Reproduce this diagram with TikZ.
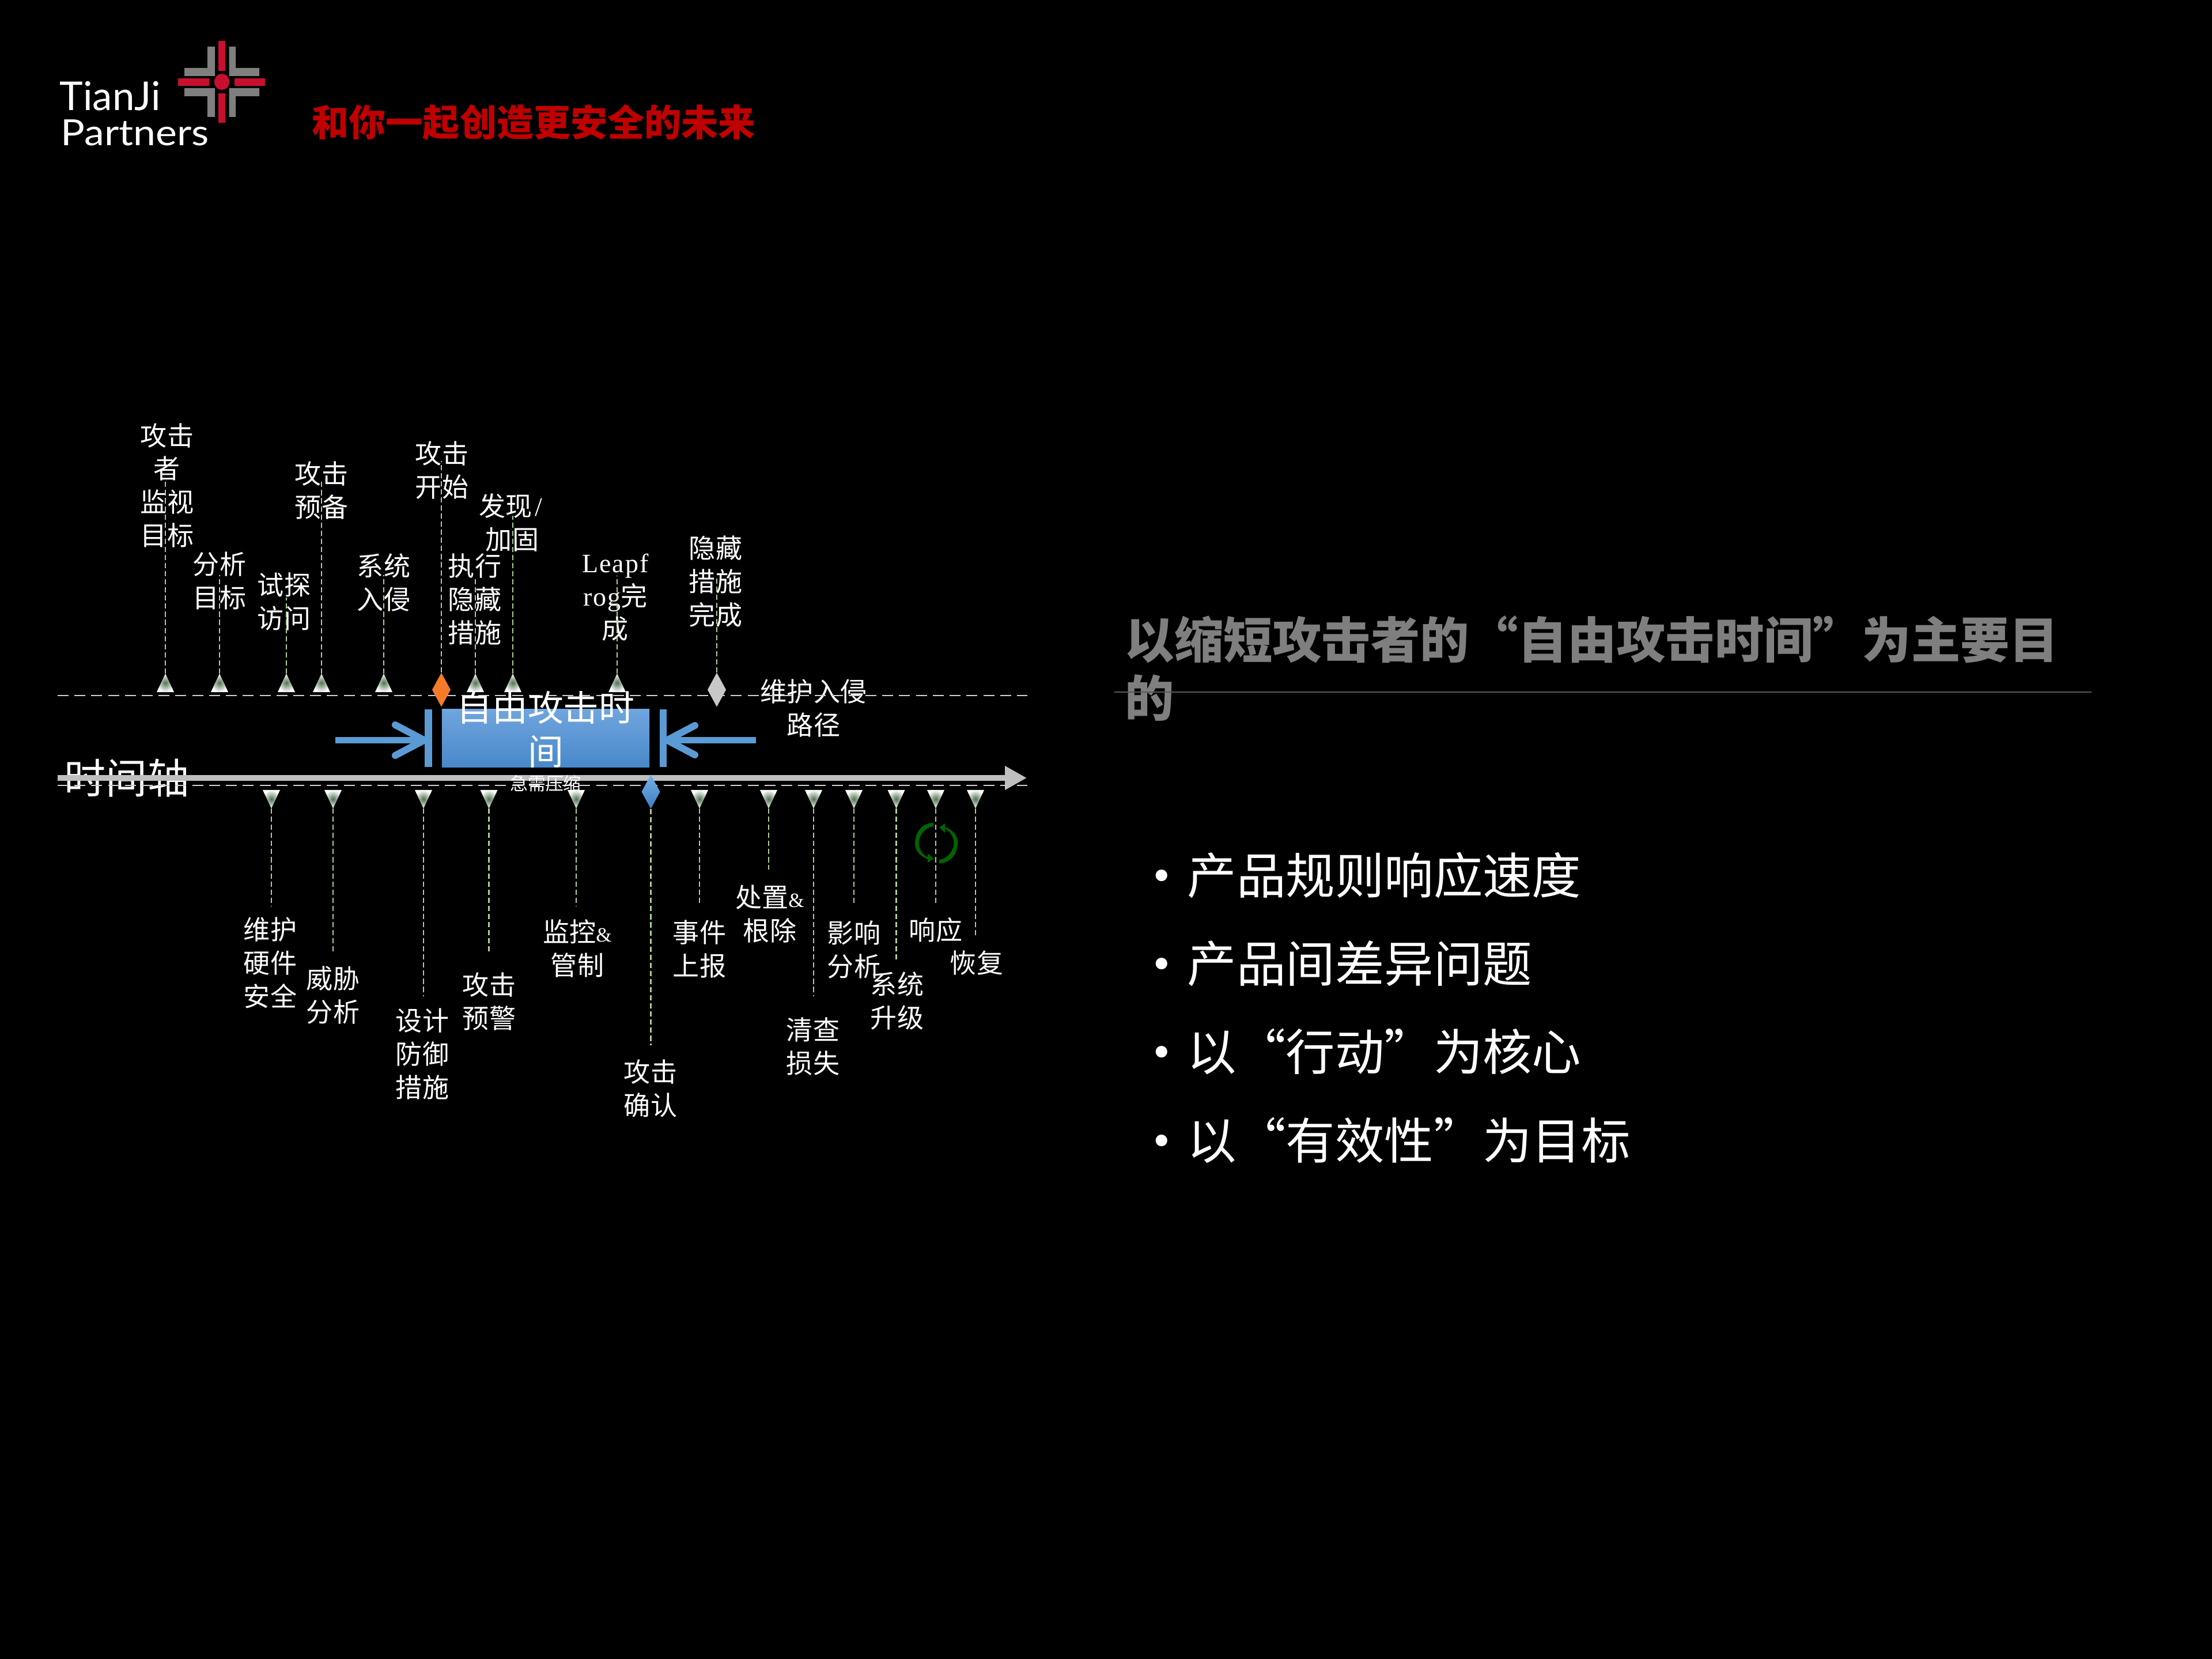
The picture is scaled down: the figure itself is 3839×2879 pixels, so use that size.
\documentclass[tikz,border=0pt]{standalone}
\usepackage{fontspec}
\setmainfont{Noto Sans CJK SC}
\newfontfamily\latn[LetterSpace=4]{Liberation Serif}
\newfontfamily\logof{Lato}
\usetikzlibrary{shapes.geometric,arrows.meta,shadings}
\definecolor{leadgreen}{HTML}{A9D18E}
\definecolor{dashgrey}{HTML}{D0D0D0}
\definecolor{axisgrey}{HTML}{BFBFBF}
\definecolor{lblue}{HTML}{5B9BD5}
\definecolor{logored}{HTML}{C8102E}
\definecolor{logogrey}{HTML}{7F7F7F}
\definecolor{cycgreen}{HTML}{006400}
\definecolor{mkgreen}{HTML}{4F7350}
\tikzset{
  lbl/.style={text=white,align=center,inner sep=0pt,font=\fontsize{13.1pt}{16.4pt}\selectfont},
  bigt/.style={text=white,align=center,inner sep=0pt},
  leader/.style={draw=leadgreen,line width=0.75pt,dash pattern=on 2.6pt off 1.4pt},
  dashl/.style={draw=dashgrey,line width=0.8pt,dash pattern=on 5.4pt off 2.906pt},
  mk/.style={isosceles triangle,isosceles triangle stretches,inner sep=0pt,outer sep=0pt,minimum width=3mm,minimum height=3.2mm,inner color=mkgreen,outer color=white},
  upmk/.style={mk,shape border rotate=90,anchor=apex},
  dnmk/.style={mk,shape border rotate=-90,anchor=apex},
  dia/.style={diamond,inner sep=0pt,outer sep=0pt,aspect=0.53,minimum width=3.2mm,minimum height=5.9mm},
  bluearrow/.style={draw=lblue,line width=3.4pt,line cap=butt},
  bluewing/.style={draw=lblue,line width=3.4pt,line cap=round,line join=miter},
  bar/.style={fill=lblue,draw=none,inner sep=0pt,minimum width=3.4mm,minimum height=1cm},
  lgrey/.style={fill=logogrey,draw=none},
  lred/.style={fill=logored,draw=none},
  bulletmark/.style={text=white,inner sep=0pt,font=\fontsize{24pt}{24pt}\latn},
  bullettext/.style={text=white,inner sep=0pt,anchor=west,font=\fontsize{24.3pt}{29pt}\selectfont},
}
\newcommand{\upm}[3]{\node[upmk] (m#1) at (#2,1169) {}; \coordinate (e#1) at (#2,#3); \draw[leader] (m#1.apex) -- (e#1);}
\newcommand{\dnm}[3]{\node[dnmk] (m#1) at (#2,1403) {}; \coordinate (e#1) at (#2,#3); \draw[leader] (m#1.apex) -- (e#1);}
\newcommand{\amp}{{\fontsize{10pt}{12pt}\latn\&}}
\begin{document}
\begin{tikzpicture}[x=0.01cm,y=-0.01cm]
\useasboundingbox (0,0) rectangle (3839,2879);
\fill[black] (0,0) rectangle (3839,2879);
% logo
\fill[lred] (379,71) rectangle (391,123);
\fill[lred] (379,162) rectangle (391,213);
\fill[lred] (309,136) rectangle (363,149);
\fill[lred] (407,136) rectangle (460,149);
\fill[lred] (385,142) ellipse (13 and 14);
\fill[lgrey] (360,81) -- (373,81) -- (373,132) -- (320,132) -- (320,118) -- (360,118) -- cycle;
\fill[lgrey] (409,81) -- (397.5,81) -- (397.5,132) -- (450,132) -- (450,118) -- (409,118) -- cycle;
\fill[lgrey] (360,203) -- (373,203) -- (373,153) -- (320,153) -- (320,167) -- (360,167) -- cycle;
\fill[lgrey] (409,203) -- (397.5,203) -- (397.5,153) -- (450,153) -- (450,167) -- (409,167) -- cycle;
\node[text=white,anchor=base west,inner sep=0pt,font=\logof\fontsize{19.6pt}{20pt}\selectfont] (tj) at (103,192) {TianJi};
\node[text=white,anchor=base west,inner sep=0pt,font=\logof\fontsize{17.8pt}{18pt}\selectfont] (pt) at (105,253) {\scalebox{1.115}[1]{Partners}};
\node[text={rgb,255:red,192;green,0;blue,0},inner sep=0pt,font=\fontsize{18.2pt}{22pt}\bfseries\selectfont] (slogan) at (926,212) {和你一起创造更安全的未来};
% right panel
\node[text=logogrey,anchor=north west,inner sep=0pt,align=left,font=\fontsize{24.25pt}{28.7pt}\bfseries\selectfont] (title) at (1952,1068) {以缩短攻击者的“自由攻击时间”为主要目\\的};
\coordinate (rl) at (1934,1201); \coordinate (rr) at (3630,1201);
\draw[draw=black!65,line width=0.4pt] (rl) -- (rr);
\node[bulletmark] (b1) at (2016,1528) {•};
\node[bulletmark] (b2) at (2016,1681) {•};
\node[bulletmark] (b3) at (2016,1834) {•};
\node[bulletmark] (b4) at (2016,1988) {•};
\node[bullettext] (t1) at (2060,1519) {产品规则响应速度};
\node[bullettext] (t2) at (2060,1672) {产品间差异问题};
\node[bullettext] (t3) at (2060,1825) {以“行动”为核心};
\node[bullettext] (t4) at (2060,1979) {以“有效性”为目标};
% labels above
\node[lbl] (l1) at (290,842) {攻击\\者\\监视\\目标};
\node[lbl] (l2) at (381,1008) {分析\\目标};
\node[lbl] (l3) at (493,1044) {试探\\访问};
\node[lbl] (l4) at (558,851) {攻击\\预备};
\node[lbl] (l5) at (666,1011) {系统\\入侵};
\node[lbl] (l6) at (767,816) {攻击\\开始};
\node[lbl] (l7) at (824,1040) {执行\\隐藏\\措施};
\node[lbl] (l8) at (889,907) {发现\makebox[0.5em]{\latn /}\\加固};
\node[lbl] (l9) at (1068,1037) {{\latn Leapf}\\{\latn rog}完\\成};
\node[lbl] (l10) at (1242,1009) {隐藏\\措施\\完成};
\node[lbl] (l11) at (1412,1229) {维护入侵\\路径};
% labels below
\node[lbl] (d1) at (469,1671) {维护\\硬件\\安全};
\node[lbl] (d2) at (578,1727) {威胁\\分析};
\node[lbl] (d3) at (733,1829) {设计\\防御\\措施};
\node[lbl] (d4) at (849,1738) {攻击\\预警};
\node[lbl] (d5) at (1002,1646) {监控\amp\\管制};
\node[lbl] (d6) at (1129,1889) {攻击\\确认};
\node[lbl] (d7) at (1214,1647) {事件\\上报};
\node[lbl] (d8) at (1336,1586) {处置\amp\\根除};
\node[lbl] (d9) at (1411,1816) {清查\\损失};
\node[lbl] (d10) at (1482,1648) {影响\\分析};
\node[lbl] (d11) at (1557,1737) {系统\\升级};
\node[lbl] (d12) at (1624,1614) {响应};
\node[lbl] (d13) at (1695,1671) {恢复};
% timeline label
\node[bigt,font=\fontsize{20.5pt}{24pt}\selectfont] (tl) at (220,1350) {时间轴};
% dashed lines and axis
\coordinate (da) at (100,1207); \coordinate (db) at (1783,1207);
\coordinate (dc) at (100,1363); \coordinate (dd) at (1783,1363);
\draw[dashl] (da) -- (db);
\draw[dashl] (dc) -- (dd);
\coordinate (ax0) at (100,1350); \coordinate (ax1) at (1782,1350);
\draw[draw=axisgrey,line width=2.6pt,-{Triangle[length=10.8pt,width=11.2pt]}] (ax0) -- (ax1);
% upper markers
\upm{u1}{287}{834}
\upm{u2}{381}{998}
\upm{u3}{497}{1037}
\upm{u4}{558}{834}
\upm{u5}{666}{998}
\upm{u7}{825}{1002}
\upm{u8}{890}{895}
\upm{u9}{1071}{999}
\node[dia,fill={rgb,255:red,244;green,123;blue,42}] (m6) at (766,1197) {};
\coordinate (e6) at (766,800); \draw[leader] (m6.north) -- (e6);
\node[dia,fill={rgb,255:red,200;green,200;blue,200}] (m10) at (1244,1197) {};
\coordinate (e10) at (1244,999); \draw[leader] (m10.north) -- (e10);
% lower markers
\dnm{v1}{471}{1572}
\dnm{v2}{578}{1654}
\dnm{v3}{735}{1729}
\dnm{v4}{848.5}{1654}
\dnm{v5}{1000}{1572}
\dnm{v7}{1214}{1571}
\dnm{v8}{1334}{1509}
\dnm{v9}{1412}{1729}
\dnm{v10}{1482}{1571}
\dnm{v11}{1555.5}{1665}
\dnm{v12}{1624}{1571}
\dnm{v13}{1693}{1627}
\node[dia,top color={rgb,255:red,120;green,175;blue,230},bottom color={rgb,255:red,60;green,125;blue,195}] (mb) at (1129.5,1374) {};
\coordinate (eb) at (1129.5,1814); \draw[leader] (mb.south) -- (eb);
% cycle arrows
\fill[cycgreen] (1620,1428) .. controls (1600,1428) and (1588,1445) .. (1588,1464) .. controls (1588,1476) and (1596,1485) .. (1610,1491) -- (1610,1497) -- (1620,1490) -- (1610,1481) -- (1610,1488) .. controls (1600,1482) and (1594.5,1473) .. (1594.5,1463) .. controls (1594.5,1450) and (1606,1435) .. (1620,1434) -- cycle;
\fill[cycgreen] (1630,1498) .. controls (1650,1498) and (1662,1481) .. (1662,1462) .. controls (1662,1450) and (1654,1441) .. (1640,1435) -- (1640,1429) -- (1630,1436) -- (1640,1445) -- (1640,1438) .. controls (1650,1444) and (1655.5,1453) .. (1655.5,1463) .. controls (1655.5,1476) and (1644,1491) .. (1630,1492) -- cycle;
% blue box
\node[draw=none,inner sep=0pt,outer sep=0pt,minimum width=3.6cm,minimum height=1cm,top color={rgb,255:red,112;green,165;blue,222},bottom color={rgb,255:red,72;green,136;blue,202}] (box) at (947,1281) {};
\node[bar,minimum width=1.3mm] (bl) at (743.5,1281) {};
\node[bar,minimum width=1.2mm] (br) at (1151,1281) {};
\coordinate (al) at (582,1284.5); \coordinate (ar) at (1312,1284.5);
\draw[bluearrow] (al) -- (bl.west |- al);
\draw[bluearrow] (ar) -- (br.east |- ar);
\coordinate (wl1) at (686,1258); \coordinate (wl2) at (686,1311);
\coordinate (wr1) at (1206,1259); \coordinate (wr2) at (1206,1310);
\draw[bluewing] (wl1) -- (bl.west |- al) -- (wl2);
\draw[bluewing] (wr1) -- (br.east |- ar) -- (wr2);
% box text
\node[bigt,font=\fontsize{17.6pt}{21.6pt}\selectfont] (bt) at (947,1266) {自由攻击时\\间};
\node[bigt,font=\fontsize{8.8pt}{10pt}\selectfont] (bs) at (947,1360) {急需压缩};
\end{tikzpicture}
\end{document}
